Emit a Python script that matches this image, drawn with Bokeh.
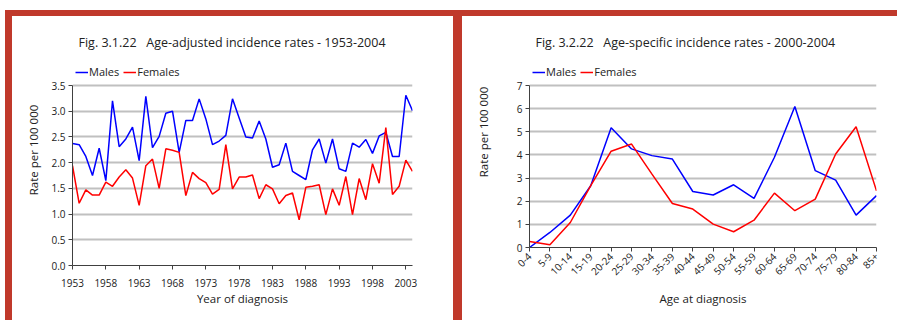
import math
from bokeh.plotting import figure
from bokeh.models import (Range1d, FixedTicker, NumeralTickFormatter, Label, Legend,
                          LegendItem, Div, Spacer)
from bokeh.layouts import row, column
from bokeh.embed import file_html
from bokeh.resources import INLINE

# ---------------- data ----------------
years = list(range(1953, 2005))
males_adj = [2.37, 2.35, 2.12, 1.75, 2.28, 1.65, 3.20, 2.31, 2.46, 2.69,
             2.04, 3.29, 2.29, 2.51, 2.96, 3.00, 2.20, 2.82, 2.82, 3.24,
             2.85, 2.35, 2.42, 2.53, 3.24, 2.87, 2.50, 2.48, 2.81, 2.46,
             1.91, 1.96, 2.38, 1.83, 1.75, 1.67, 2.25, 2.46, 1.99, 2.46,
             1.88, 1.83, 2.38, 2.30, 2.45, 2.18, 2.52, 2.59, 2.12, 2.12,
             3.31, 3.01]
females_adj = [1.94, 1.21, 1.47, 1.37, 1.37, 1.62, 1.54, 1.72, 1.86, 1.70,
               1.17, 1.94, 2.07, 1.50, 2.27, 2.24, 2.20, 1.36, 1.81, 1.69,
               1.61, 1.39, 1.48, 2.35, 1.49, 1.72, 1.72, 1.76, 1.30, 1.57,
               1.49, 1.20, 1.36, 1.41, 0.89, 1.52, 1.54, 1.57, 0.99, 1.49,
               1.17, 1.73, 0.99, 1.69, 1.28, 1.98, 1.60, 2.68, 1.38, 1.54,
               2.05, 1.83]
year_ticks = list(range(1953, 2004, 5))
rate_ticks_adj = [0.0, 0.5, 1.0, 1.5, 2.0, 2.5, 3.0, 3.5]

age_groups = ["0-4", "5-9", "10-14", "15-19", "20-24", "25-29", "30-34", "35-39",
              "40-44", "45-49", "50-54", "55-59", "60-64", "65-69", "70-74",
              "75-79", "80-84", "85+"]
males_age = [0.0, 0.65, 1.40, 2.67, 5.17, 4.26, 3.97, 3.82, 2.42, 2.27,
             2.71, 2.12, 3.90, 6.09, 3.32, 2.91, 1.40, 2.24]
females_age = [0.26, 0.12, 1.08, 2.67, 4.16, 4.47, 3.17, 1.90, 1.66, 1.01,
               0.68, 1.18, 2.35, 1.59, 2.09, 4.04, 5.22, 2.45]
rate_ticks_age = [0, 1, 2, 3, 4, 5, 6, 7]

title_left = "Fig. 3.1.22\u00a0\u00a0 Age-adjusted incidence rates - 1953-2004"
title_right = "Fig. 3.2.22\u00a0\u00a0 Age-specific incidence rates - 2000-2004"

# ---------------- style ----------------
FONT = "Open Sans"
TXT = "#222222"
BLUE = "#0000ff"
REDL = "#ff0000"
GRID = "#c0c0c0"
AXC = "#404040"
FRAME_RED = "#c0392b"

ROW_H = 304


def style(p, ymax):
    p.outline_line_color = None
    p.background_fill_color = "white"
    p.border_fill_color = "white"
    p.xgrid.visible = False
    p.ygrid.grid_line_color = GRID
    p.ygrid.grid_line_width = 2
    for ax in p.axis:
        ax.axis_line_color = AXC
        ax.axis_line_width = 1
        ax.major_tick_line_color = AXC
        ax.major_tick_out = 4
        ax.major_tick_in = 0
        ax.minor_tick_out = 0
        ax.minor_tick_in = 0
        ax.major_label_text_font = FONT
        ax.major_label_text_font_size = "10px"
        ax.major_label_text_color = TXT
        ax.axis_label_text_font = FONT
        ax.axis_label_text_font_size = "11.5px"
        ax.axis_label_text_font_style = "normal"
        ax.axis_label_text_color = TXT
    p.yaxis.bounds = (0, ymax)


def add_legend(p, r1, r2, loc):
    leg = Legend(items=[LegendItem(label="Males", renderers=[r1]),
                        LegendItem(label="Females", renderers=[r2])],
                 orientation="horizontal", location=loc,
                 glyph_width=13, glyph_height=14, label_height=14,
                 label_standoff=1, spacing=4, padding=0, margin=0,
                 border_line_color=None, background_fill_alpha=0,
                 label_text_font=FONT, label_text_font_size="11px",
                 label_text_color=TXT)
    p.add_layout(leg)


# ---------------- left chart ----------------
shift1 = 18
h1 = ROW_H - shift1
b1 = 55
plot_h1 = 180
frame_h1 = h1 - b1
ymax1 = rate_ticks_adj[-1]
p1 = figure(width=441, height=h1, x_range=Range1d(years[0], years[-1]),
            y_range=Range1d(0, ymax1 * frame_h1 / plot_h1),
            output_backend="svg", toolbar_location=None,
            min_border_left=60, min_border_right=41,
            min_border_top=0, min_border_bottom=b1)
style(p1, ymax1)
m1 = p1.line(years, males_adj, line_color=BLUE, line_width=1.5)
f1 = p1.line(years, females_adj, line_color=REDL, line_width=1.5)
p1.xaxis.ticker = FixedTicker(ticks=year_ticks)
p1.yaxis.ticker = FixedTicker(ticks=rate_ticks_adj)
p1.ygrid.ticker = FixedTicker(ticks=rate_ticks_adj[1:])
p1.yaxis.formatter = NumeralTickFormatter(format="0.0")
p1.xaxis.axis_label = "Year of diagnosis"
p1.yaxis.axis_label = "Rate per 100 000"
p1.yaxis.major_label_standoff = 3
p1.yaxis.axis_label_standoff = 7
p1.xaxis.major_label_standoff = 9
p1.xaxis.axis_label_standoff = 1
p1.add_layout(Label(x=6, y=223, x_units="screen", y_units="screen", text=title_left,
                    text_font=FONT, text_font_size="12.5px", text_color=TXT,
                    text_baseline="middle", text_align="left"))
add_legend(p1, m1, f1, (3, 186))

# ---------------- right chart ----------------
age_idx = list(range(len(age_groups)))
b2 = 73
plot_h2 = 162
frame_h2 = ROW_H - b2
ymax2 = rate_ticks_age[-1]
p2 = figure(width=435, height=ROW_H, x_range=Range1d(age_idx[0], age_idx[-1]),
            y_range=Range1d(0, ymax2 * frame_h2 / plot_h2),
            output_backend="svg", toolbar_location=None,
            min_border_left=67, min_border_right=21,
            min_border_top=0, min_border_bottom=b2)
style(p2, ymax2)
m2 = p2.line(age_idx, males_age, line_color=BLUE, line_width=1.5)
f2 = p2.line(age_idx, females_age, line_color=REDL, line_width=1.5)
p2.xaxis.ticker = FixedTicker(ticks=age_idx)
p2.xaxis.major_label_overrides = {i: g for i, g in zip(age_idx, age_groups)}
p2.xaxis.major_label_orientation = math.pi / 4
p2.yaxis.ticker = FixedTicker(ticks=rate_ticks_age)
p2.ygrid.ticker = FixedTicker(ticks=rate_ticks_age[1:])
p2.xaxis.axis_label = "Age at diagnosis"
p2.yaxis.axis_label = "Rate per 100 000"
p2.yaxis.major_label_standoff = 3
p2.yaxis.axis_label_standoff = 23
p2.xaxis.major_label_standoff = 3
p2.xaxis.axis_label_standoff = 9
p2.add_layout(Label(x=6, y=205, x_units="screen", y_units="screen", text=title_right,
                    text_font=FONT, text_font_size="12.5px", text_color=TXT,
                    text_baseline="middle", text_align="left"))
add_legend(p2, m2, f2, (3, 168))

# ---------------- frame decoration ----------------
def bar(w, h):
    return Div(text="", width=w, height=h, margin=0,
               styles={"background-color": FRAME_RED})


def gap(w, h):
    return Spacer(width=w, height=h, margin=0)


top_gap = gap(897, 10)
top_row = row(gap(5, 6), bar(892, 6), spacing=0)
left_col = column(gap(441, shift1), p1, spacing=0)
main_row = row(gap(5, ROW_H), bar(7, ROW_H), left_col, bar(9, ROW_H), p2, spacing=0)

layout = column(top_gap, top_row, main_row, spacing=0)

open("out.html", "w").write(file_html(layout, INLINE))
